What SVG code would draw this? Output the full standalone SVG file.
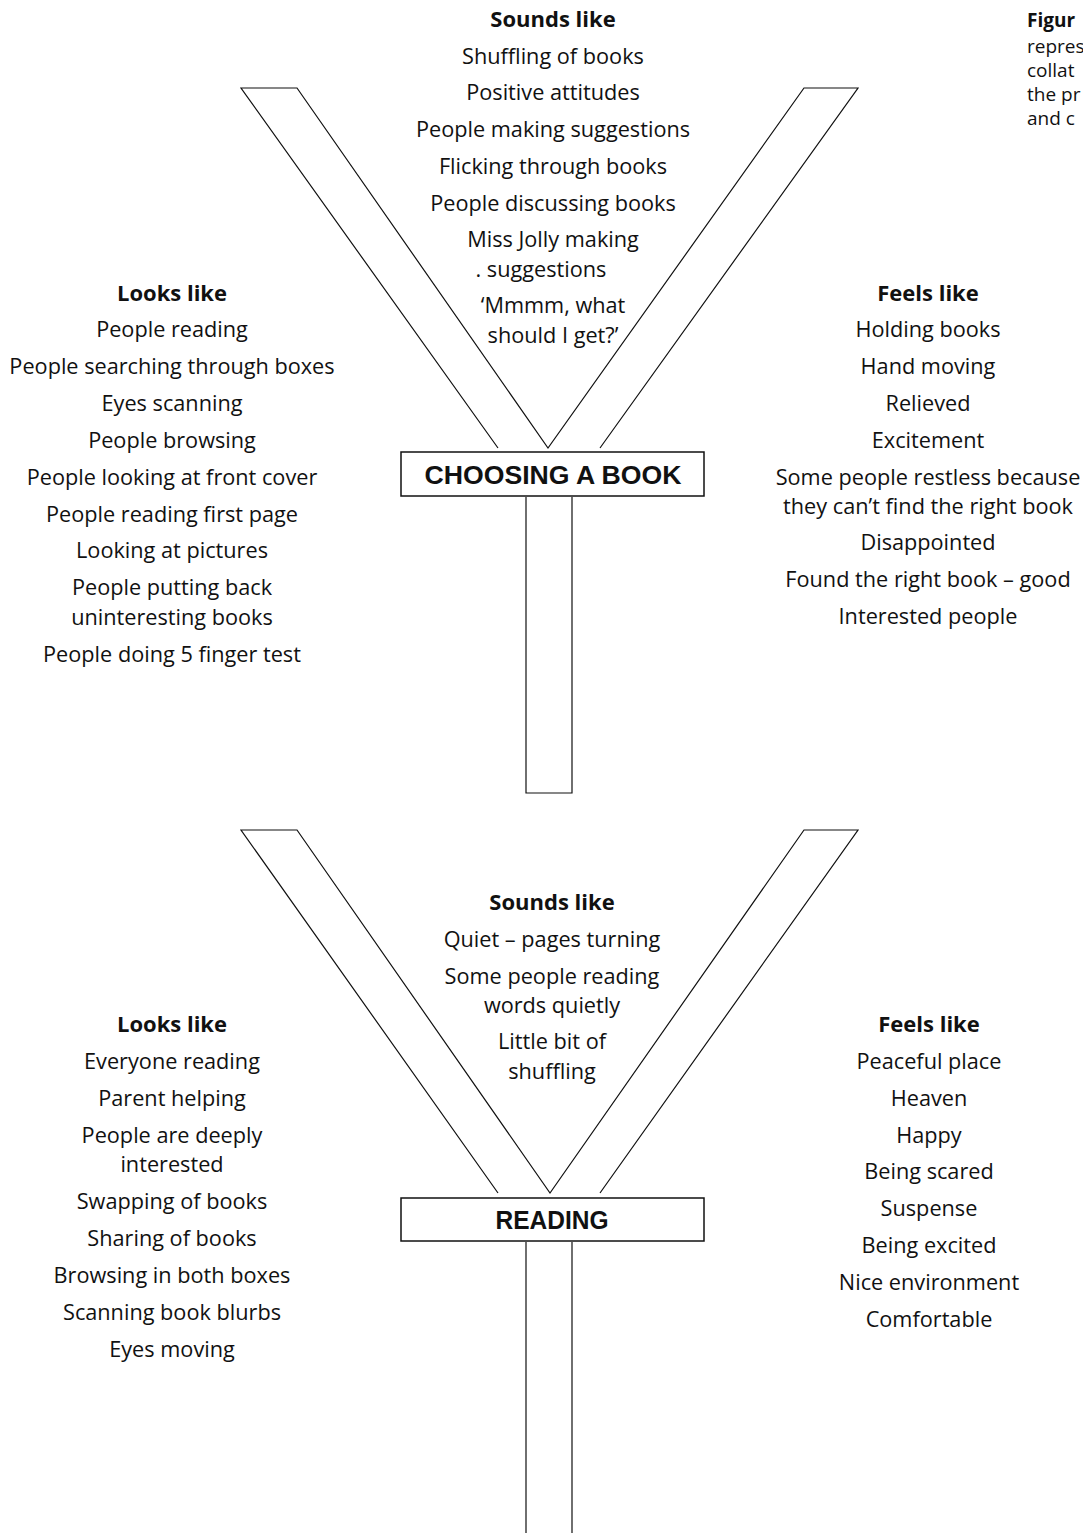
<svg xmlns="http://www.w3.org/2000/svg" width="1083" height="1533" viewBox="0 0 1083 1533">
<style>
.t{font-family:"Open Sans","Noto Sans","Liberation Sans",sans-serif;font-size:21.7px;fill:#111;text-anchor:middle}
.b{font-weight:bold;font-size:22px}
.lbl{font-family:"Liberation Sans",Arial,sans-serif;font-weight:bold;font-size:25px;fill:#111;text-anchor:middle}
.ln{fill:none;stroke:#111;stroke-width:1.2}
.bx{fill:#fff;stroke:#111;stroke-width:1.5}
.fig{font-family:"Open Sans","Noto Sans",sans-serif;font-size:19px;fill:#111}
</style>
<rect width="1083" height="1533" fill="#fff"/>
<g id="connectors">
<path class="ln" d="M498,448 L241,88 L297,88 L548,448 L804,88 L858,88 L600,448"/>
<path class="ln" d="M526,497 V793 H572 V497"/>
<path class="ln" d="M498,1193 L241,830 L297,830 L550,1193 L804,830 L858,830 L600,1193"/>
<path class="ln" d="M526,1242 V1533 M572,1242 V1533"/>
</g>
<g id="node-choosing">
<rect class="bx" x="401" y="452" width="303" height="44"/>
<text class="lbl" x="553" y="484" textLength="257" lengthAdjust="spacingAndGlyphs">CHOOSING A BOOK</text>
</g>
<g id="node-reading">
<rect class="bx" x="401" y="1198" width="303" height="43"/>
<text class="lbl" x="552" y="1229" textLength="113" lengthAdjust="spacingAndGlyphs">READING</text>
</g>
<g id="sounds-1">
<text class="t b" x="553" y="27">Sounds like</text>
<text class="t" x="553" y="64">Shuffling of books</text>
<text class="t" x="553" y="100">Positive attitudes</text>
<text class="t" x="553" y="137">People making suggestions</text>
<text class="t" x="553" y="174">Flicking through books</text>
<text class="t" x="553" y="211">People discussing books</text>
<text class="t" x="553" y="247">Miss Jolly making</text>
<text class="t" x="541" y="277">. suggestions</text>
<text class="t" x="553" y="313">‘Mmmm, what</text>
<text class="t" x="553" y="343">should I get?’</text>
</g>
<g id="looks-1">
<text class="t b" x="172" y="301">Looks like</text>
<text class="t" x="172" y="337">People reading</text>
<text class="t" x="172" y="374">People searching through boxes</text>
<text class="t" x="172" y="411">Eyes scanning</text>
<text class="t" x="172" y="448">People browsing</text>
<text class="t" x="172" y="485">People looking at front cover</text>
<text class="t" x="172" y="522">People reading first page</text>
<text class="t" x="172" y="558">Looking at pictures</text>
<text class="t" x="172" y="595">People putting back</text>
<text class="t" x="172" y="625">uninteresting books</text>
<text class="t" x="172" y="662">People doing 5 finger test</text>
</g>
<g id="feels-1">
<text class="t b" x="928" y="301">Feels like</text>
<text class="t" x="928" y="337">Holding books</text>
<text class="t" x="928" y="374">Hand moving</text>
<text class="t" x="928" y="411">Relieved</text>
<text class="t" x="928" y="448">Excitement</text>
<text class="t" x="928" y="485">Some people restless because</text>
<text class="t" x="928" y="514">they can’t find the right book</text>
<text class="t" x="928" y="550">Disappointed</text>
<text class="t" x="928" y="587">Found the right book – good</text>
<text class="t" x="928" y="624">Interested people</text>
</g>
<g id="figure-caption">
<text class="fig" font-weight="bold" x="1027" y="27">Figur</text>
<text class="fig" x="1027" y="53">repres</text>
<text class="fig" x="1027" y="77">collat</text>
<text class="fig" x="1027" y="101">the pr</text>
<text class="fig" x="1027" y="125">and c</text>
</g>
<g id="sounds-2">
<text class="t b" x="552" y="910">Sounds like</text>
<text class="t" x="552" y="947">Quiet – pages turning</text>
<text class="t" x="552" y="984">Some people reading</text>
<text class="t" x="552" y="1013">words quietly</text>
<text class="t" x="552" y="1049">Little bit of</text>
<text class="t" x="552" y="1079">shuffling</text>
</g>
<g id="looks-2">
<text class="t b" x="172" y="1032">Looks like</text>
<text class="t" x="172" y="1069">Everyone reading</text>
<text class="t" x="172" y="1106">Parent helping</text>
<text class="t" x="172" y="1143">People are deeply</text>
<text class="t" x="172" y="1172">interested</text>
<text class="t" x="172" y="1209">Swapping of books</text>
<text class="t" x="172" y="1246">Sharing of books</text>
<text class="t" x="172" y="1283">Browsing in both boxes</text>
<text class="t" x="172" y="1320">Scanning book blurbs</text>
<text class="t" x="172" y="1357">Eyes moving</text>
</g>
<g id="feels-2">
<text class="t b" x="929" y="1032">Feels like</text>
<text class="t" x="929" y="1069">Peaceful place</text>
<text class="t" x="929" y="1106">Heaven</text>
<text class="t" x="929" y="1143">Happy</text>
<text class="t" x="929" y="1179">Being scared</text>
<text class="t" x="929" y="1216">Suspense</text>
<text class="t" x="929" y="1253">Being excited</text>
<text class="t" x="929" y="1290">Nice environment</text>
<text class="t" x="929" y="1327">Comfortable</text>
</g>
</svg>
